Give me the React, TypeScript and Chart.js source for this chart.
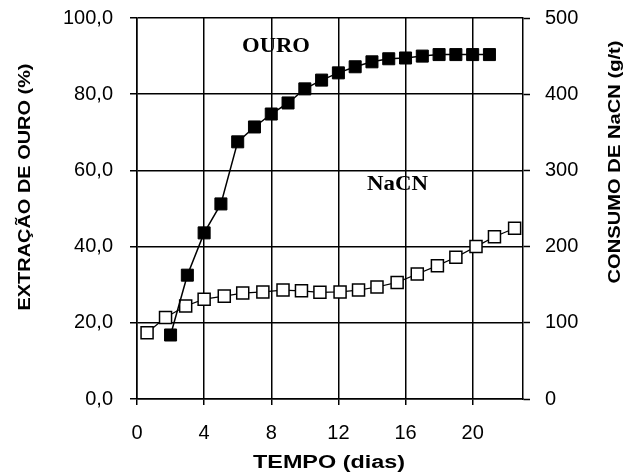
import React, { useEffect, useRef } from "react";
import { Chart, registerables } from "chart.js";

Chart.register(...registerables);

// Gold extraction (%) vs time (days)
const goldDays = [2, 3, 4, 5, 6, 7, 8, 9, 10, 11, 12, 13, 14, 15, 16, 17, 18, 19, 20, 21];
const goldExtraction = [16.8, 32.5, 43.6, 51.2, 67.5, 71.4, 74.8, 77.7, 81.4, 83.7, 85.6, 87.2, 88.5, 89.3, 89.5, 90.0, 90.4, 90.4, 90.4, 90.4];

// NaCN consumption (g/t) vs time (days)
const nacnDays = [0.6, 1.7, 2.9, 4.0, 5.2, 6.3, 7.5, 8.7, 9.8, 10.9, 12.1, 13.2, 14.3, 15.5, 16.7, 17.9, 19.0, 20.2, 21.3, 22.5];
const nacnConsumption = [87, 107, 122, 131, 135, 139, 140.5, 143, 142, 140, 140.5, 143, 147, 153, 164, 175, 186, 200, 213, 224];

// Axis ranges / ticks
const xMin = 0;
const xMax = 23;
const xStep = 4;
const leftMin = 0;
const leftMax = 100;
const leftStep = 20;
const rightMin = 0;
const rightMax = 500;
const rightStep = 100;

// Text
const xTitle = "TEMPO (dias)";
const leftTitle = "EXTRAÇÃO DE OURO (%)";
const rightTitle = "CONSUMO DE NaCN (g/t)";
const goldLabel = "OURO";
const nacnLabel = "NaCN";

function drawStretched(
  ctx: CanvasRenderingContext2D,
  text: string,
  x: number,
  y: number,
  rotation: number,
  font: string,
  targetLen: number,
  align: CanvasTextAlign = "center",
  baseline: CanvasTextBaseline = "middle"
) {
  ctx.save();
  ctx.font = font;
  ctx.fillStyle = "#000";
  const w = ctx.measureText(text).width;
  ctx.translate(x, y);
  ctx.rotate(rotation);
  ctx.scale(targetLen / w, 1);
  ctx.textAlign = align;
  ctx.textBaseline = baseline;
  ctx.fillText(text, 0, 0);
  ctx.restore();
}

const textPlugin = {
  id: "customTexts",
  afterDraw(chart: any) {
    const ctx = chart.ctx as CanvasRenderingContext2D;
    const sans = "'Liberation Sans', Arial, sans-serif";
    const serif = "'Liberation Serif', 'Times New Roman', serif";
    drawStretched(ctx, xTitle, 329, 463, 0, `bold 18px ${sans}`, 152);
    drawStretched(ctx, leftTitle, 25, 187, -Math.PI / 2, `bold 17px ${sans}`, 247);
    drawStretched(ctx, rightTitle, 615, 162, -Math.PI / 2, `bold 17px ${sans}`, 243);
    drawStretched(ctx, goldLabel, 242, 52, 0, `bold 20px ${serif}`, 68, "left", "alphabetic");
    drawStretched(ctx, nacnLabel, 367, 190, 0, `bold 20px ${serif}`, 61, "left", "alphabetic");
  },
};

export default function App() {
  const canvasRef = useRef<HTMLCanvasElement | null>(null);

  useEffect(() => {
    if (!canvasRef.current) return;
    const tickFont = { family: "'Liberation Sans', Arial, sans-serif", size: 20 };
    const fitY = (w: number) => (s: any) => {
      s.width = w;
      s.paddingTop = 0;
      s.paddingBottom = 0;
    };
    const chart = new Chart(canvasRef.current, {
      type: "line",
      data: {
        datasets: [
          {
            label: goldLabel,
            data: goldDays.map((d, i) => ({ x: d, y: goldExtraction[i] })),
            yAxisID: "y",
            borderColor: "#000",
            borderWidth: 1.5,
            backgroundColor: "#000",
            pointStyle: "rect",
            pointRadius: 8.5,
            pointBackgroundColor: "#000",
            pointBorderColor: "#000",
            pointBorderWidth: 1,
            tension: 0,
          },
          {
            label: nacnLabel,
            data: nacnDays.map((d, i) => ({ x: d, y: nacnConsumption[i] })),
            yAxisID: "y1",
            borderColor: "#000",
            borderWidth: 1.2,
            backgroundColor: "#fff",
            pointStyle: "rect",
            pointRadius: 8.5,
            pointBackgroundColor: "#fff",
            pointBorderColor: "#000",
            pointBorderWidth: 1.5,
            tension: 0,
          },
        ],
      },
      options: {
        responsive: false,
        animation: false,
        devicePixelRatio: 1,
        layout: { padding: { top: 18, left: 0, right: 0, bottom: 0 } },
        plugins: {
          legend: { display: false },
          tooltip: { enabled: false },
          title: { display: false },
        },
        scales: {
          x: {
            type: "linear",
            min: xMin,
            max: xMax,
            afterFit: (s: any) => {
              s.height = 74;
              s.paddingLeft = 0;
              s.paddingRight = 0;
            },
            ticks: {
              stepSize: xStep,
              includeBounds: false,
              color: "#000",
              font: tickFont,
              padding: 16,
              maxRotation: 0,
            },
            grid: {
              color: "#000",
              lineWidth: 1.5,
              tickLength: 6,
              tickColor: "#000",
              tickWidth: 1.5,
            },
            border: { color: "#000", width: 1.5 },
          },
          y: {
            type: "linear",
            position: "left",
            min: leftMin,
            max: leftMax,
            afterFit: fitY(137),
            ticks: {
              stepSize: leftStep,
              color: "#000",
              font: tickFont,
              padding: 17,
              callback: (v: any) => Number(v).toFixed(1).replace(".", ","),
            },
            grid: {
              color: "#000",
              lineWidth: 1.5,
              tickLength: 7,
              tickColor: "#000",
              tickWidth: 1.5,
            },
            border: { color: "#000", width: 1.5 },
          },
          y1: {
            type: "linear",
            position: "right",
            min: rightMin,
            max: rightMax,
            afterFit: fitY(107),
            ticks: {
              stepSize: rightStep,
              color: "#000",
              font: tickFont,
              padding: 15,
              callback: (v: any) => String(v),
            },
            grid: {
              drawOnChartArea: false,
              color: "#000",
              tickLength: 7,
              tickColor: "#000",
              tickWidth: 1.5,
            },
            border: { color: "#000", width: 1.5 },
          },
        },
      },
      plugins: [textPlugin],
    });
    return () => chart.destroy();
  }, []);

  return (
    <div style={{ position: "fixed", left: 0, top: 0, width: 630, height: 473, background: "#fff" }}>
      <canvas ref={canvasRef} width={630} height={473} style={{ display: "block" }} />
    </div>
  );
}
